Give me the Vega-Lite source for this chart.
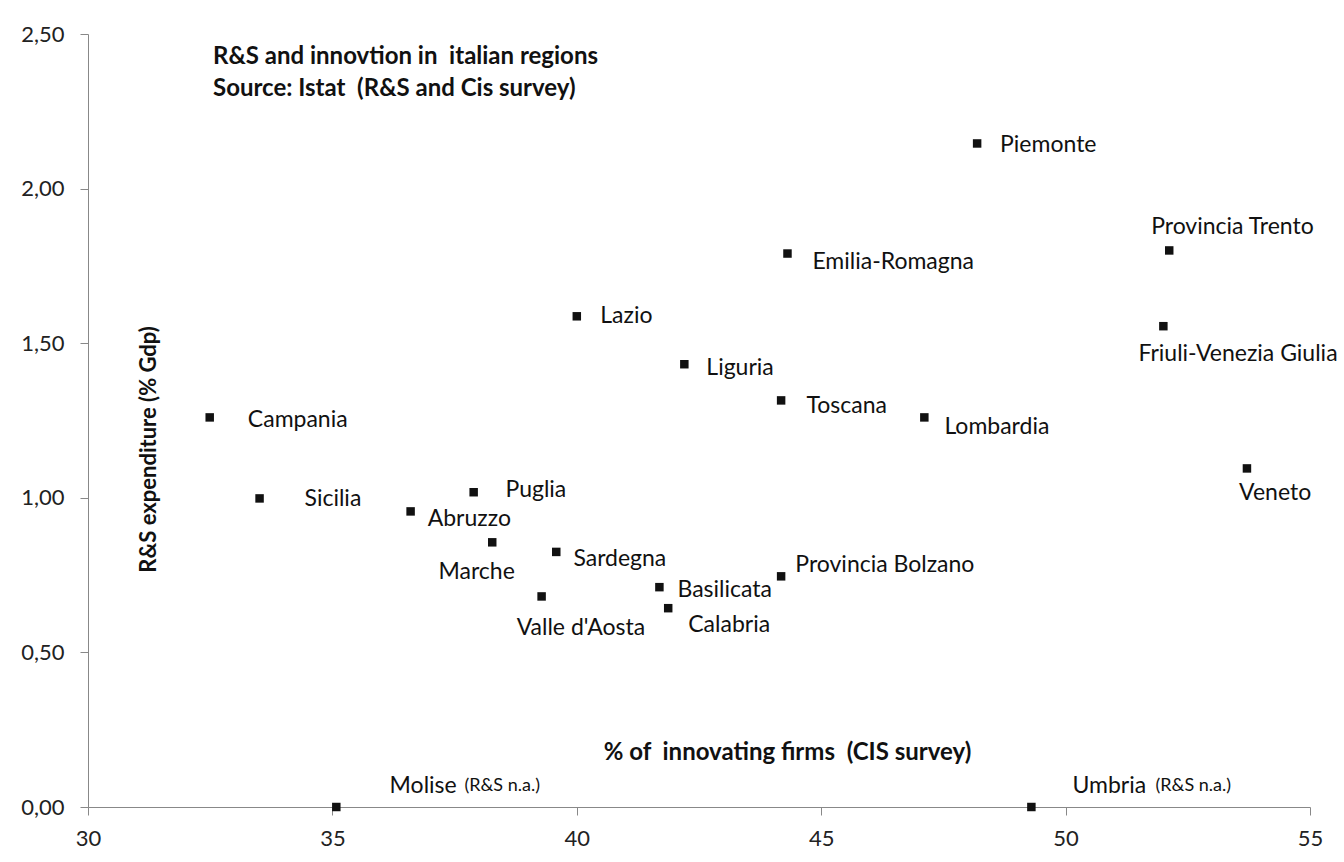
{
  "$schema": "https://vega.github.io/schema/vega-lite/v6.json",
  "autosize": {"type": "none"},
  "width": 1222,
  "height": 773,
  "padding": {"left": 88, "top": 34, "right": 34, "bottom": 55},
  "background": "white",
  "config": {
    "view": {"stroke": null},
    "font": "Lato",
    "text": {"font": "Lato"}
  },
  "title": {
    "text": ["R&S and innovtion in \u00a0italian regions", "Source: Istat \u00a0(R&S and Cis survey)"],
    "anchor": "start",
    "frame": "group",
    "orient": "top",
    "baseline": "top",
    "offset": 0,
    "dx": 125,
    "dy": 78,
    "font": "Lato",
    "fontSize": 24,
    "fontWeight": "bold",
    "lineHeight": 32,
    "color": "#111111"
  },
  "data": {
    "values": [
      {"region": "Piemonte", "innov": 48.19, "rs": 2.146, "lx": 48.66, "ly": 2.14},
      {"region": "Provincia Trento", "innov": 52.12, "rs": 1.80, "lx": 51.75, "ly": 1.875},
      {"region": "Emilia-Romagna", "innov": 44.31, "rs": 1.79, "lx": 44.82, "ly": 1.761},
      {"region": "Lazio", "innov": 40.0, "rs": 1.587, "lx": 40.48, "ly": 1.587},
      {"region": "Friuli-Venezia Giulia", "innov": 52.0, "rs": 1.555, "lx": 51.49, "ly": 1.464},
      {"region": "Liguria", "innov": 42.2, "rs": 1.432, "lx": 42.65, "ly": 1.419},
      {"region": "Toscana", "innov": 44.18, "rs": 1.315, "lx": 44.7, "ly": 1.297},
      {"region": "Lombardia", "innov": 47.11, "rs": 1.26, "lx": 47.52, "ly": 1.228},
      {"region": "Campania", "innov": 32.49, "rs": 1.26, "lx": 33.27, "ly": 1.251},
      {"region": "Veneto", "innov": 53.71, "rs": 1.095, "lx": 53.55, "ly": 1.015},
      {"region": "Sicilia", "innov": 33.51, "rs": 0.998, "lx": 34.43, "ly": 0.995},
      {"region": "Puglia", "innov": 37.89, "rs": 1.018, "lx": 38.54, "ly": 1.024},
      {"region": "Abruzzo", "innov": 36.6, "rs": 0.956, "lx": 36.95, "ly": 0.931},
      {"region": "Marche", "innov": 38.27, "rs": 0.856, "lx": 37.17, "ly": 0.759},
      {"region": "Sardegna", "innov": 39.58, "rs": 0.825, "lx": 39.93, "ly": 0.802},
      {"region": "Valle d'Aosta", "innov": 39.28, "rs": 0.681, "lx": 38.77, "ly": 0.578},
      {"region": "Basilicata", "innov": 41.69, "rs": 0.711, "lx": 42.06, "ly": 0.701},
      {"region": "Calabria", "innov": 41.87, "rs": 0.643, "lx": 42.28, "ly": 0.587},
      {"region": "Provincia Bolzano", "innov": 44.18, "rs": 0.746, "lx": 44.47, "ly": 0.782},
      {"region": "Molise", "innov": 35.08, "rs": 0.0, "lx": 36.17, "ly": 0.067, "note": "(R&S n.a.)", "nx": 37.7},
      {"region": "Umbria", "innov": 49.3, "rs": 0.0, "lx": 50.14, "ly": 0.067, "note": "(R&S n.a.)", "nx": 51.84}
    ]
  },
  "layer": [
    {
      "mark": {"type": "point", "shape": "square", "filled": true, "size": 72, "color": "#111111", "opacity": 1, "clip": false},
      "encoding": {
        "x": {
          "field": "innov",
          "type": "quantitative",
          "scale": {"domain": [30, 55], "nice": false, "zero": false},
          "axis": {
            "values": [30, 35, 40, 45, 50, 55],
            "grid": false,
            "labelFlush": false,
            "domainColor": "#888888",
            "tickColor": "#888888",
            "tickSize": 8,
            "labelFont": "Lato",
            "labelFontSize": 22,
            "labelColor": "#222222",
            "labelPadding": 13,
            "title": "% of \u00a0innovating firms \u00a0(CIS survey)",
            "titleFont": "Lato",
            "titleFontSize": 24,
            "titleFontWeight": "bold",
            "titleColor": "#111111",
            "titleX": 699,
            "titleY": -55,
            "titleAlign": "center",
            "titleBaseline": "middle"
          }
        },
        "y": {
          "field": "rs",
          "type": "quantitative",
          "scale": {"domain": [0, 2.5], "nice": false, "zero": true},
          "axis": {
            "values": [0, 0.5, 1, 1.5, 2, 2.5],
            "grid": false,
            "labelFlush": false,
            "domainColor": "#888888",
            "tickColor": "#888888",
            "tickSize": 8,
            "labelFont": "Lato",
            "labelFontSize": 22,
            "labelColor": "#222222",
            "labelPadding": 16,
            "labelExpr": "replace(format(datum.value, '.2f'), '.', ',')",
            "title": "R&S expenditure (% Gdp)",
            "titleFont": "Lato",
            "titleFontSize": 22,
            "titleFontWeight": "bold",
            "titleColor": "#111111",
            "titleX": 60,
            "titleY": 415,
            "titleAngle": 270,
            "titleAlign": "center",
            "titleBaseline": "middle"
          }
        }
      }
    },
    {
      "mark": {"type": "text", "align": "left", "baseline": "middle", "font": "Lato", "fontSize": 23, "color": "#111111", "clip": false},
      "encoding": {
        "x": {"field": "lx", "type": "quantitative"},
        "y": {"field": "ly", "type": "quantitative"},
        "text": {"field": "region"}
      }
    },
    {
      "transform": [{"filter": "datum.note != null"}],
      "mark": {"type": "text", "align": "left", "baseline": "middle", "font": "Lato", "fontSize": 18, "color": "#111111", "clip": false},
      "encoding": {
        "x": {"field": "nx", "type": "quantitative"},
        "y": {"field": "ly", "type": "quantitative"},
        "text": {"field": "note"}
      }
    }
  ]
}
